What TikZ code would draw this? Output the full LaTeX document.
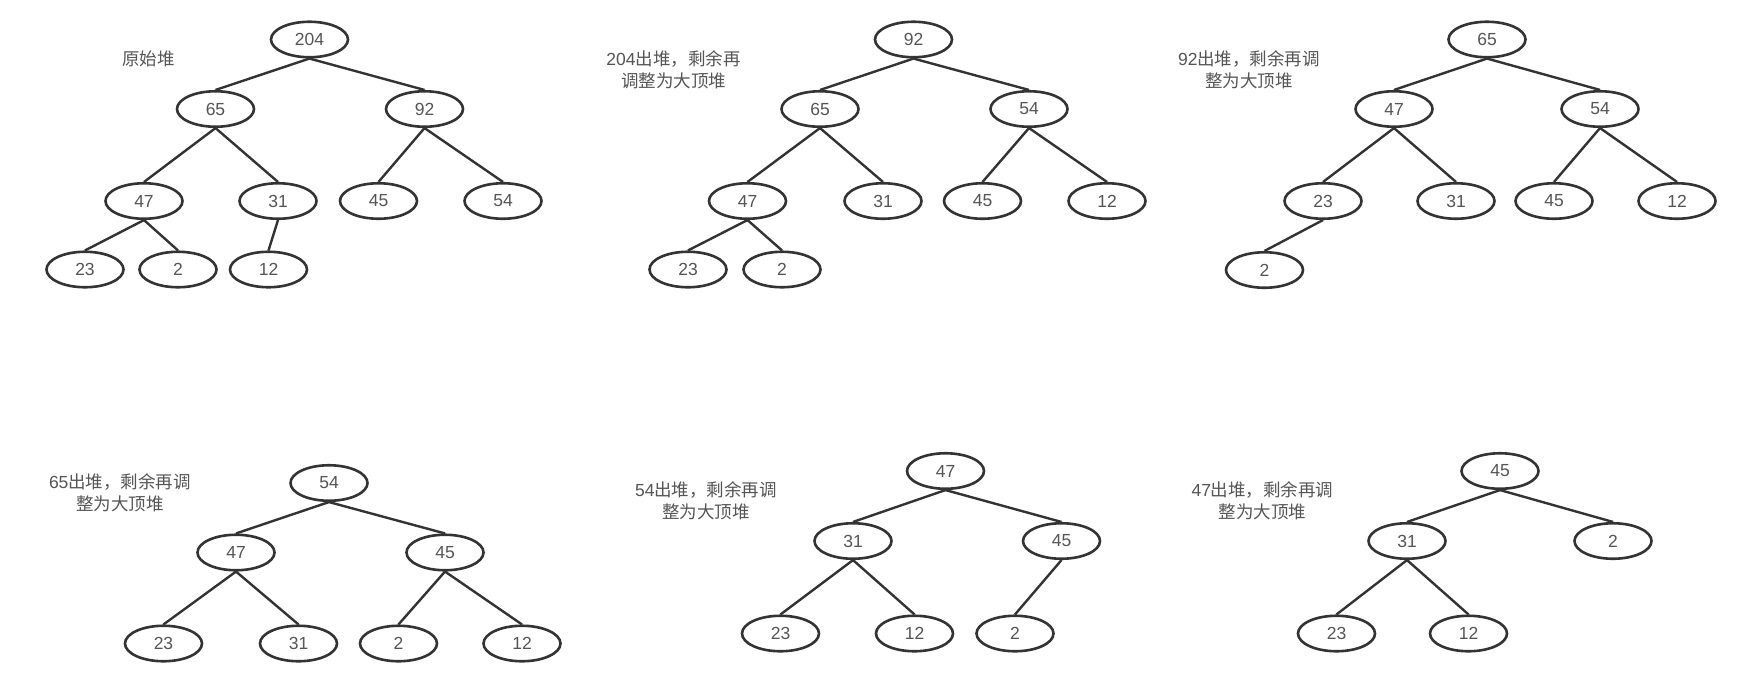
\documentclass[tikz,border=0pt]{standalone}
\usepackage{fontspec}
\usetikzlibrary{shapes.geometric}
\setmainfont{Liberation Sans}
\newfontfamily\cjk{Noto Sans CJK SC}
\definecolor{txt}{HTML}{555555}
\definecolor{ln}{HTML}{333333}
\begin{document}
\begin{tikzpicture}[x=1pt,y=-1pt,
  hn/.style={draw=ln,line width=2.6pt,ellipse,minimum width=77pt,minimum height=35.5pt,inner sep=0pt,text=txt,font=\fontsize{17.5}{21}\selectfont},
  lbl/.style={align=center,text=txt,font=\fontsize{17.5}{22}\selectfont\cjk,inner sep=0pt},
  ed/.style={draw=ln,line width=2.4pt}]
\useasboundingbox[fill=white] (0,0) rectangle (1750,686);
% Tree A
\node[lbl] (lA) at (148.5,58.5) {原始堆};
\node[hn] (a204) at (309.5,39.5) {204};
\node[hn] (a65) at (215.5,109) {65};
\node[hn] (a92) at (424.5,109) {92};
\node[hn] (a47) at (144,201) {47};
\node[hn] (a31) at (278,201) {31};
\node[hn] (a45) at (378.5,201) {45};
\node[hn] (a54) at (503,201) {54};
\node[hn] (a23) at (85,269.5) {23};
\node[hn] (a2) at (178,269.5) {2};
\node[hn] (a12) at (268.5,269.5) {12};
\foreach \p/\c in {a204/a65,a204/a92,a65/a47,a65/a31,a92/a45,a92/a54,a47/a23,a47/a2,a31/a12}
  \draw[ed] (\p.south) -- (\c.north);
% Tree B
\node[lbl] (lB) at (673.5,70) {{\rmfamily 204}出堆，剩余再\\调整为大顶堆};
\node[hn] (b92) at (913.5,39.5) {92};
\node[hn] (b65) at (820,109) {65};
\node[hn] (b54) at (1029,109) {54};
\node[hn] (b47) at (747.5,201) {47};
\node[hn] (b31) at (883,201) {31};
\node[hn] (b45) at (982.5,201) {45};
\node[hn] (b12) at (1107,201) {12};
\node[hn] (b23) at (688,269.5) {23};
\node[hn] (b2) at (782,269.5) {2};
\foreach \p/\c in {b92/b65,b92/b54,b65/b47,b65/b31,b54/b45,b54/b12,b47/b23,b47/b2}
  \draw[ed] (\p.south) -- (\c.north);
% Tree C
\node[lbl] (lC) at (1249,70) {{\rmfamily 92}出堆，剩余再调\\整为大顶堆};
\node[hn] (c65) at (1487,39.5) {65};
\node[hn] (c47) at (1394,109) {47};
\node[hn] (c54) at (1600,109) {54};
\node[hn] (c23) at (1323,201) {23};
\node[hn] (c31) at (1456,201) {31};
\node[hn] (c45) at (1554,201) {45};
\node[hn] (c12) at (1677,201) {12};
\node[hn] (c2) at (1264.5,270) {2};
\foreach \p/\c in {c65/c47,c65/c54,c47/c23,c47/c31,c54/c45,c54/c12,c23/c2}
  \draw[ed] (\p.south) -- (\c.north);
% Tree D
\node[lbl] (lD) at (120,493) {{\rmfamily 65}出堆，剩余再调\\整为大顶堆};
\node[hn] (d54) at (329,483) {54};
\node[hn] (d47) at (236,552.5) {47};
\node[hn] (d45) at (445,552.5) {45};
\node[hn] (d23) at (163.5,643.5) {23};
\node[hn] (d31) at (298.5,643.5) {31};
\node[hn] (d2) at (398.5,643.5) {2};
\node[hn] (d12) at (522,643.5) {12};
\foreach \p/\c in {d54/d47,d54/d45,d47/d23,d47/d31,d45/d2,d45/d12}
  \draw[ed] (\p.south) -- (\c.north);
% Tree E
\node[lbl] (lE) at (706,501) {{\rmfamily 54}出堆，剩余再调\\整为大顶堆};
\node[hn] (e47) at (945.5,471) {47};
\node[hn] (e31) at (853,541) {31};
\node[hn] (e45) at (1061.5,541) {45};
\node[hn] (e23) at (780.5,633.5) {23};
\node[hn] (e12) at (914.5,633.5) {12};
\node[hn] (e2) at (1015,633.5) {2};
\foreach \p/\c in {e47/e31,e47/e45,e31/e23,e31/e12,e45/e2}
  \draw[ed] (\p.south) -- (\c.north);
% Tree F
\node[lbl] (lF) at (1262.5,501) {{\rmfamily 47}出堆，剩余再调\\整为大顶堆};
\node[hn] (f45) at (1500,471) {45};
\node[hn] (f31) at (1407,541) {31};
\node[hn] (f2) at (1613,541) {2};
\node[hn] (f23) at (1336.5,633.5) {23};
\node[hn] (f12) at (1468.5,633.5) {12};
\foreach \p/\c in {f45/f31,f45/f2,f31/f23,f31/f12}
  \draw[ed] (\p.south) -- (\c.north);
\end{tikzpicture}
\end{document}
